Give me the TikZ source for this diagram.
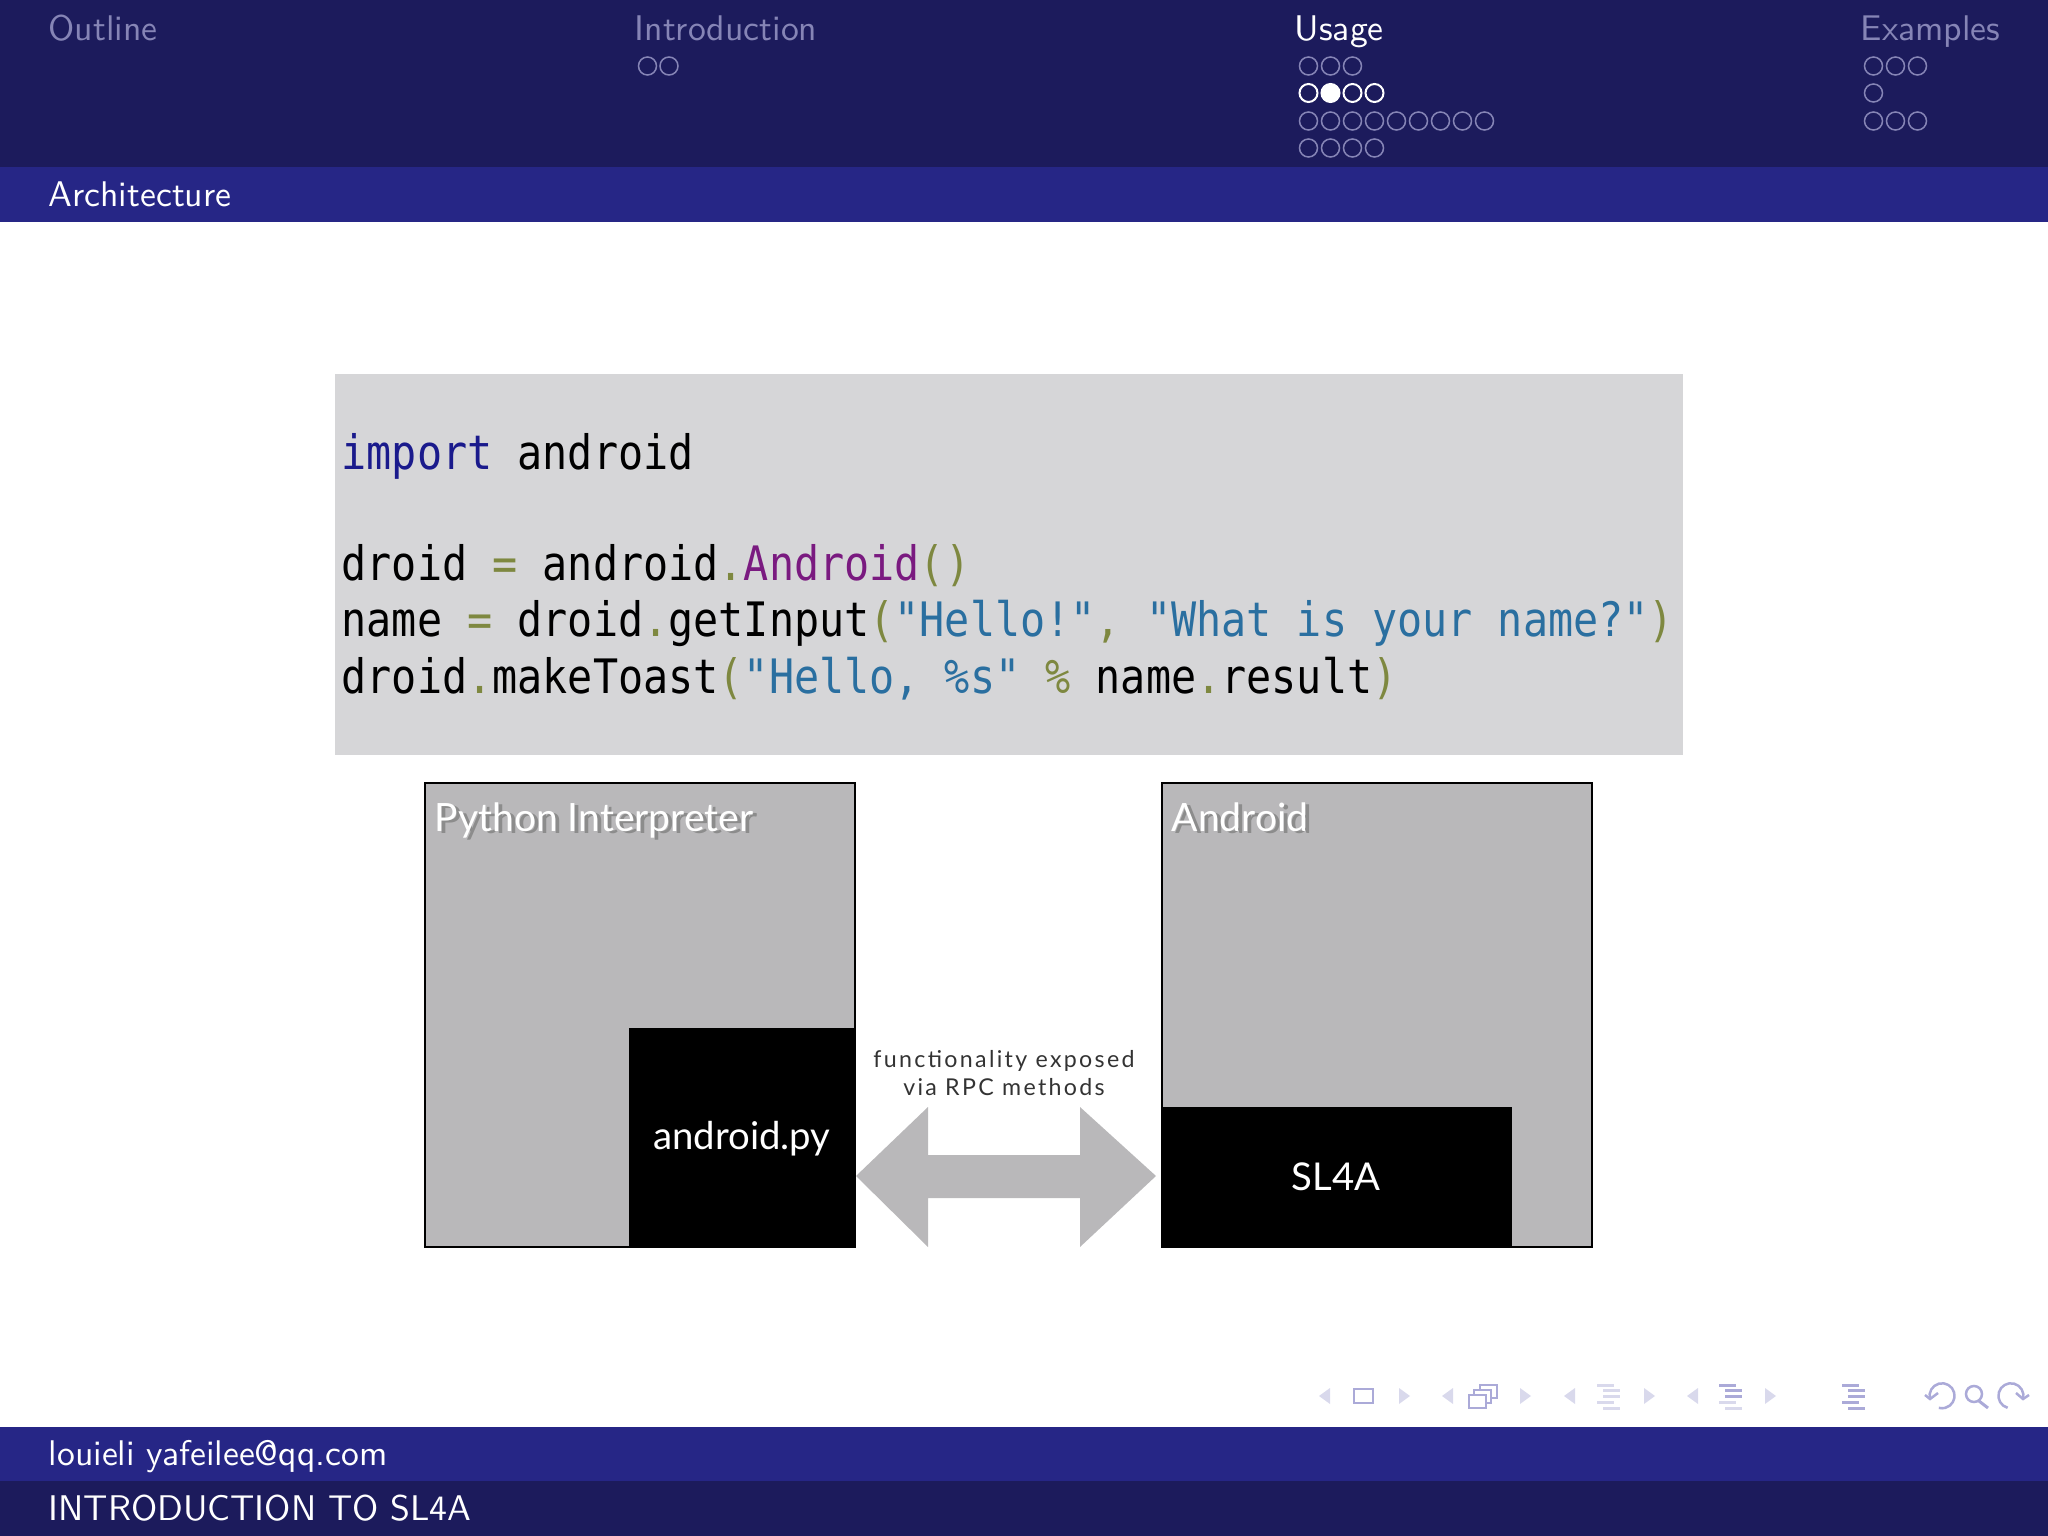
\documentclass[tikz,border=0pt]{standalone}
\usepackage{fontspec}
\setmonofont[FakeStretch=0.88]{DejaVu Sans Mono}
\newfontfamily\gillfont{Lato}
\newfontfamily\gillwide[LetterSpace=10]{Lato}
\usetikzlibrary{arrows,positioning}

\definecolor{navdark}{HTML}{1C1B5C}
\definecolor{navblue}{HTML}{262686}
\definecolor{navfade}{HTML}{8685B6}
\definecolor{codebg}{HTML}{D6D6D8}
\definecolor{panelgray}{HTML}{B9B8BA}
\definecolor{kwblue}{HTML}{1A1A8C}
\definecolor{oppurple}{HTML}{7A1A80}
\definecolor{stblue}{HTML}{2A6FA0}
\definecolor{opolive}{HTML}{7E8840}
\definecolor{symstrong}{HTML}{ABAAD8}
\definecolor{symlight}{HTML}{D9D9EC}

\newcommand{\op}[1]{\textcolor{opolive}{#1}}
\newcommand{\st}[1]{\textcolor{stblue}{#1}}

\tikzset{
  navtext/.style={inner sep=0,anchor=base west,font=\sffamily\fontsize{10.15}{12}\selectfont},
  codetext/.style={inner sep=0,anchor=base west,font=\ttfamily\fontsize{13.5}{16}\selectfont},
  fadedot/.style={draw=navfade,line width=0.015cm},
  whitedot/.style={draw=white,line width=0.02cm},
  tridot/.style={fill=symlight},
  panel/.style={draw=black,line width=0.025cm,fill=panelgray},
  paneltext/.style={inner sep=0,anchor=base west,text=white,font=\gillfont\fontsize{11.1}{13}\selectfont},
  panelshade/.style={inner sep=0,anchor=base west,text=black!45,font=\gillfont\fontsize{11.1}{13}\selectfont},
  boxtext/.style={inner sep=0,text=white,font=\gillfont\fontsize{10.9}{12}\selectfont},
  symline/.style={draw=symstrong,line width=0.025cm},
}

\begin{document}
\begin{tikzpicture}
  \useasboundingbox (0,0) rectangle (20.48,-15.36);
  % bars
  \fill [navdark] (0,0) rectangle (20.48,-1.67);
  \fill [navblue] (0,-1.67) rectangle (20.48,-2.22);
  \fill [navblue] (0,-14.27) rectangle (20.48,-14.81);
  \fill [navdark] (0,-14.81) rectangle (20.48,-15.36);

  \node [navtext,text=navfade] (outline) at (0.48,-0.41) {Outline};
  \node [navtext,text=navfade] (intro) at (6.34,-0.41) {Introduction};
  \node [navtext,text=white] (usage) at (12.94,-0.41) {Usage};
  \node [navtext,text=navfade] (examples) at (18.6,-0.41) {Examples};
  \node [navtext,text=white] (architecture) at (0.48,-2.065) {Architecture};
  \node [navtext,text=white] (author) at (0.48,-14.65) {louieli yafeilee@qq.com};
  \node [navtext,text=white] (talk) at (0.48,-15.2) {INTRODUCTION TO SL4A};

  % mini frames
  \foreach \i in {0,1}
    \draw [fadedot] (6.475+0.215*\i,-0.66) circle [radius=0.09];
  \foreach \i in {0,1,2}
    \draw [fadedot] (13.085+0.22*\i,-0.66) circle [radius=0.09];
  \foreach \i in {0,...,3}
    \draw [whitedot] (13.085+0.22*\i,-0.93) circle [radius=0.09];
  \fill [white] (13.305,-0.93) circle [radius=0.095];
  \foreach \i in {0,...,8}
    \draw [fadedot] (13.085+0.22*\i,-1.21) circle [radius=0.09];
  \foreach \i in {0,...,3}
    \draw [fadedot] (13.085+0.22*\i,-1.48) circle [radius=0.09];
  \foreach \i in {0,1,2}
    \draw [fadedot] (18.735+0.22*\i,-0.66) circle [radius=0.09];
  \draw [fadedot] (18.735,-0.93) circle [radius=0.09];
  \foreach \i in {0,1,2}
    \draw [fadedot] (18.735+0.22*\i,-1.21) circle [radius=0.09];

  % code
  \fill [codebg] (3.35,-3.74) rectangle (16.83,-7.55);
  \node [codetext] (line one) at (3.41,-4.69) {\textcolor{kwblue}{import} android};
  \node [codetext] (line two) at (3.41,-5.8) {droid \op{=} android\op{.}\textcolor{oppurple}{Android}\op{()}};
  \node [codetext] (line three) at (3.41,-6.365) {name \op{=} droid\op{.}getInput\op{(}\st{"Hello!"}\op{,} \st{"What is your name?"}\op{)}};
  \node [codetext] (line four) at (3.41,-6.935) {droid\op{.}makeToast\op{(}\st{"Hello, \%s"} \op{\%} name\op{.}result\op{)}};

  % left panel
  \draw [panel] (4.25,-7.83) rectangle (8.55,-12.47);
  \fill [black] (6.29,-10.28) rectangle (8.56,-12.48);
  \node [panelshade] (python shade) at (4.38,-8.33) {Python Interpreter};
  \node [paneltext] (python) at (4.34,-8.31) {Python Interpreter};
  \node [boxtext] (androidpy) at (7.42,-11.385) {android.py};

  % right panel
  \draw [panel] (11.62,-7.83) rectangle (15.92,-12.47);
  \fill [black] (11.61,-11.07) rectangle (15.12,-12.48);
  \node [panelshade] (android shade) at (11.75,-8.33) {Android};
  \node [paneltext] (android) at (11.71,-8.31) {Android};
  \node [boxtext] (slfa) at (13.36,-11.77) {SL4A};

  % double arrow
  \fill [panelgray] (8.56,-11.76) -- (9.28,-11.07) -- (9.28,-11.55) -- (10.8,-11.55) -- (10.8,-11.07)
    -- (11.56,-11.76) -- (10.8,-12.47) -- (10.8,-11.98) -- (9.28,-11.98) -- (9.28,-12.47) -- cycle;
  \node [inner sep=0,align=center,text=black!80,font=\gillwide\fontsize{6.6}{7.8}\selectfont] (rpc) at (10.04,-10.73)
    {functionality exposed\\via RPC methods};

  % navigation symbols
  \foreach \x in {13.19,14.42,15.64,16.87}
    \fill [tridot] (\x,-13.96) -- (\x+0.11,-13.88) -- (\x+0.11,-14.04) -- cycle;
  \foreach \x in {13.99,15.2,16.44,17.65}
    \fill [tridot] (\x,-13.88) -- (\x+0.11,-13.96) -- (\x,-14.04) -- cycle;
  \draw [symline] (13.54,-13.89) rectangle (13.73,-14.03);
  \draw [symline] (14.8,-13.85) rectangle (14.97,-13.98);
  \draw [symline,fill=white] (14.74,-13.9) rectangle (14.91,-14.03);
  \draw [symline,fill=white] (14.69,-13.95) rectangle (14.86,-14.08);
  % outline bars
  \foreach \x/\sa/\sb/\sc in {15.97/symlight/symlight/symlight,17.19/symstrong/symstrong/symlight,18.42/symstrong/symstrong/symstrong}
  {
    \fill [\sa] (\x,-13.84) rectangle (\x+0.17,-13.87);
    \fill [\sb] (\x+0.06,-13.89) rectangle (\x+0.23,-13.92);
    \fill [\sb] (\x+0.06,-13.945) rectangle (\x+0.23,-13.975);
    \fill [\sc] (\x,-14.005) rectangle (\x+0.17,-14.035);
    \fill [\sc] (\x+0.06,-14.065) rectangle (\x+0.23,-14.095);
  }
  % undo, search, redo
  \draw [symline] (19.3,-13.99) arc [start angle=195,end angle=-105,radius=0.125];
  \draw [symline] (19.25,-13.95) -- (19.3,-13.99) -- (19.38,-13.93);
  \draw [symline] (19.74,-13.94) circle [radius=0.08];
  \draw [symline,line width=0.03cm] (19.79,-14.01) -- (19.88,-14.08);
  \draw [symline] (20.23,-13.99) arc [start angle=-15,end angle=255,radius=0.125];
  \draw [symline] (20.29,-13.95) -- (20.23,-13.99) -- (20.16,-13.93);
\end{tikzpicture}
\end{document}
